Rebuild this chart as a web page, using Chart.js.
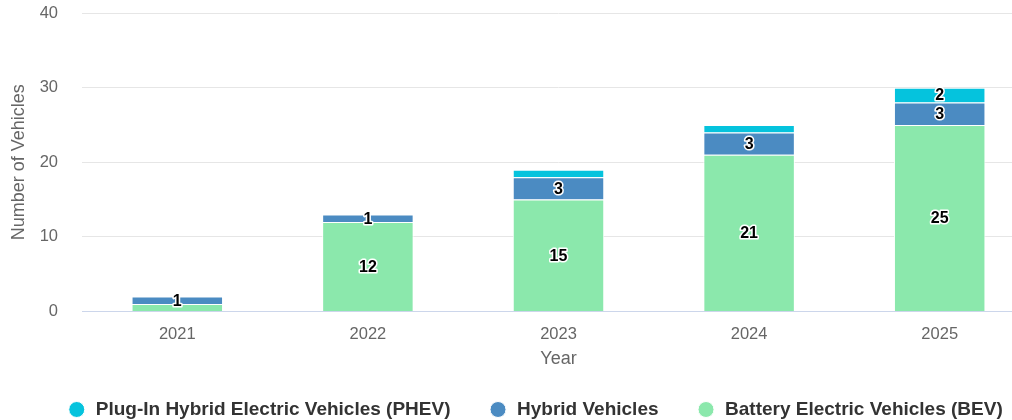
<!DOCTYPE html>
<html>
<head>
<meta charset="utf-8">
<script src="https://cdn.jsdelivr.net/npm/chart.js@4.4.1/dist/chart.umd.min.js"></script>
<style>
    html, body { margin: 0; padding: 0; background: #fff; overflow: hidden; }
    #wrap { width: 1070px; height: 429px; }
</style>
</head>
<body>
<div id="wrap"><canvas id="chart" width="1070" height="429"></canvas></div>
<script>
const years = ['2021', '2022', '2023', '2024', '2025'];
const bevValues = [1, 12, 15, 21, 25];
const hybridValues = [1, 1, 3, 3, 3];
const phevValues = [0, 0, 1, 1, 2];
const yMin = 0, yMax = 40, yStep = 10;

const FONT = '"Liberation Sans", Arial, sans-serif';

// labels in the middle of each segment, white outline; a label that would
// overlap one already drawn is skipped (hybrid first, then BEV, then PHEV)
const stackLabels = {
    id: 'stackLabels',
    afterDatasetsDraw: (chart, args, options) => {
        const {ctx} = chart;
        const placed = [];
        ctx.save();
        ctx.font = `bold 16px ${FONT}`;
        ctx.textAlign = 'center';
        ctx.textBaseline = 'middle';
        ctx.lineJoin = 'round';
        options.order.forEach(di => {
            const meta = chart.getDatasetMeta(di);
            const data = chart.data.datasets[di].data;
            meta.data.forEach((bar, i) => {
                const v = data[i];
                if (!v) return;
                const x = bar.x;
                const y = (bar.y + bar.base) / 2 + 1;
                const text = String(v);
                const w = ctx.measureText(text).width + 4, h = 16;
                const box = {l: x - w / 2, r: x + w / 2, t: y - h / 2, b: y + h / 2};
                if (placed.some(p => p.l < box.r && box.l < p.r && p.t < box.b && box.t < p.b)) return;
                placed.push(box);
                ctx.lineWidth = 3;
                ctx.strokeStyle = '#fff';
                ctx.strokeText(text, x, y);
                ctx.fillStyle = '#000';
                ctx.fillText(text, x, y);
            });
        });
        ctx.restore();
    }
};

const barStyle = {borderColor: '#fff', borderWidth: 1, barPercentage: 0.48, categoryPercentage: 1};

new Chart(document.getElementById('chart').getContext('2d'), {
    type: 'bar',
    data: {
        labels: years,
        datasets: [
            {label: 'Battery Electric Vehicles (BEV)', data: bevValues, backgroundColor: '#8be8ac', ...barStyle},
            {label: 'Hybrid Vehicles', data: hybridValues, backgroundColor: '#4b8bc2', ...barStyle},
            {label: 'Plug-In Hybrid Electric Vehicles (PHEV)', data: phevValues, backgroundColor: '#05c3dd', ...barStyle},
        ]
    },
    options: {
        responsive: false,
        devicePixelRatio: 1,
        animation: false,
        layout: {padding: 0},
        scales: {
            x: {
                stacked: true,
                grid: {display: false, drawTicks: false},
                border: {display: true, color: '#ccd6eb', width: 1},
                ticks: {color: '#666', font: {family: FONT, size: 16.5}, padding: 13.5, maxRotation: 0},
                title: {display: true, text: 'Year', color: '#666', font: {family: FONT, size: 18}, padding: {top: 0, bottom: -8}},
                afterFit: scale => { scale.height = 50.5; scale.paddingLeft = 0; scale.paddingRight = 0; },
            },
            y: {
                stacked: true,
                min: yMin,
                max: yMax,
                ticks: {stepSize: yStep, color: '#666', font: {family: FONT, size: 16.5}, padding: 24},
                grid: {color: '#e6e6e6', drawTicks: false},
                border: {display: false},
                title: {display: true, text: 'Number of Vehicles', color: '#666', font: {family: FONT, size: 18}, padding: {top: 8, bottom: 0}},
                afterFit: scale => { scale.width = 82; scale.paddingTop = 13; scale.paddingBottom = 0; },
            },
            yPad: {
                position: 'right',
                display: true,
                grid: {display: false, drawTicks: false},
                border: {display: false},
                ticks: {display: false},
                afterFit: scale => { scale.width = 35; scale.paddingTop = 0; scale.paddingBottom = 0; },
            }
        },
        plugins: {
            legend: {
                position: 'bottom',
                reverse: true,
                labels: {
                    usePointStyle: true,
                    pointStyle: 'circle',
                    boxWidth: 19,
                    boxHeight: 11.3,
                    padding: 38,
                    color: '#333',
                    font: {family: FONT, size: 19, weight: 'bold'},
                }
            },
            tooltip: {enabled: false},
            stackLabels: {order: [1, 0, 2]},
        }
    },
    plugins: [stackLabels]
});
</script>
</body>
</html>
